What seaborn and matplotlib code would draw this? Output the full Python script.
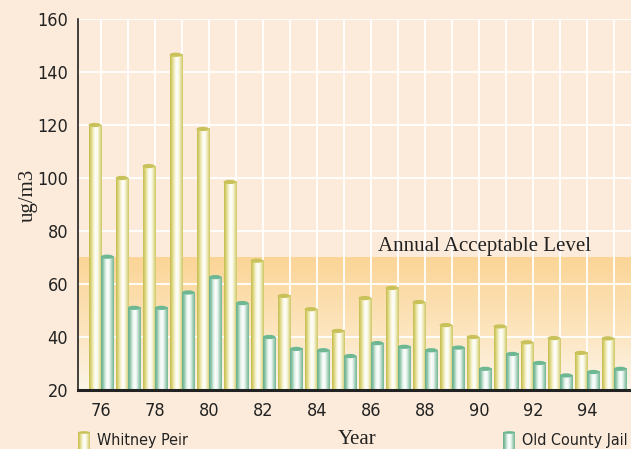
import matplotlib
matplotlib.use("Agg")
import matplotlib.pyplot as plt
import numpy as np
import pandas as pd
import seaborn as sns
from matplotlib import font_manager
from matplotlib.colors import LinearSegmentedColormap, to_hex
from matplotlib.patches import Ellipse

# values (ug/m3)
years = [str(y) for y in range(76, 96)]
whitney_peir = [120, 100, 104.5, 146.5, 118.5, 98.5, 68.8, 55.5, 50.5, 42.3,
                54.7, 58.5, 53.2, 44.5, 40, 44, 38, 39.6, 34, 39.5]
old_county_jail = [70.3, 51, 51, 56.8, 62.6, 52.8, 40, 35.5, 35, 32.8,
                   37.7, 36.3, 35, 36, 28, 33.6, 30.2, 25.5, 26.8, 28]
series_names = ["Whitney Peir", "Old County Jail"]
acceptable_level = 70
acceptable_label = "Annual Acceptable Level"
y_ticks = [20, 40, 60, 80, 100, 120, 140, 160]

BG = "#fcebda"
dark = {"Whitney Peir": "#c9c25a", "Old County Jail": "#6db892"}
shades = {
    "Whitney Peir": ["#c4bc4e", "#dcd67e", "#f3f0c4", "#ffffff", "#fbfae9", "#e6e2a6", "#cfc866"],
    "Old County Jail": ["#66ae8a", "#8ec5a9", "#d9eee3", "#ffffff", "#eaf5ef", "#a8d2bc", "#74b795"],
}
cmaps = {k: LinearSegmentedColormap.from_list(k, v) for k, v in shades.items()}

df = pd.DataFrame({
    "year": years * 2,
    "value": whitney_peir + old_county_jail,
    "series": [series_names[0]] * len(years) + [series_names[1]] * len(years),
})

sns.set_style("white", {"axes.facecolor": BG, "figure.facecolor": BG})

# narrow sans for ticks/legend, serif for titles
names = {f.name for f in font_manager.fontManager.ttflist}
if "Liberation Sans Narrow" in names:
    narrow = font_manager.FontProperties(family="Liberation Sans Narrow", size=14)
    legend_fp = font_manager.FontProperties(family="Liberation Sans Narrow", size=13)
else:
    narrow = font_manager.FontProperties(family="DejaVu Sans", stretch="condensed", size=13)
    legend_fp = font_manager.FontProperties(family="DejaVu Sans", stretch="condensed", size=11.5)
serif = font_manager.FontProperties(family="Liberation Serif", size=15)

fig = plt.figure(figsize=(6.31, 4.49), dpi=100)
ax = fig.add_axes([78 / 631, 59 / 449, 1 - 78 / 631, 371 / 449])

sns.barplot(data=df, x="year", y="value", hue="series", hue_order=series_names,
            palette=dark, width=0.92, gap=0, saturation=1, legend=False, ax=ax)

xlim = (-0.85, 19.63)
ylim = (20, 160)

# acceptable band: gradient from the level down to the axis floor
band = np.linspace(0, 1, 128).reshape(-1, 1)
band_cmap = LinearSegmentedColormap.from_list("band", ["#fdf5e9", "#fce3ba", "#fbd597"])
ax.imshow(band, cmap=band_cmap, extent=[xlim[0], xlim[1], ylim[0], acceptable_level],
          origin="lower", aspect="auto", zorder=0.2, interpolation="bilinear")

# turn flat bars into cylinders
grad = np.linspace(0, 1, 64).reshape(1, -1)
color_to_series = {to_hex(v): k for k, v in dark.items()}
for p in ax.patches:
    s = color_to_series.get(to_hex(p.get_facecolor()))
    if s is None:
        continue
    x0, w, top = p.get_x(), p.get_width(), p.get_height()
    p.set_alpha(0)
    ax.imshow(grad, cmap=cmaps[s], extent=[x0, x0 + w, ylim[0], top],
              aspect="auto", zorder=2, interpolation="bilinear")
    ax.add_patch(Ellipse((x0 + w / 2, top), w, 1.6, facecolor=dark[s],
                         edgecolor="none", zorder=3))

ax.set_xlim(*xlim)
ax.set_ylim(*ylim)

ax.set_xticks(range(len(years)))
ax.set_xticklabels([y if i % 2 == 0 else "" for i, y in enumerate(years)])
ax.set_yticks(y_ticks)
ax.set_yticklabels([str(t) for t in y_ticks])
for lab in ax.get_xticklabels() + ax.get_yticklabels():
    lab.set_fontproperties(narrow)
    lab.set_color("#222222")
ax.tick_params(axis="both", length=0)
ax.tick_params(axis="x", pad=9)
ax.tick_params(axis="y", pad=7)

ax.set_axisbelow(True)
ax.grid(True, color="white", linewidth=1.3)
for lbl in ["top", "right"]:
    ax.spines[lbl].set_visible(False)
ax.spines["left"].set_color("#222222")
ax.spines["left"].set_linewidth(1.2)
ax.spines["bottom"].set_color("#222222")
ax.spines["bottom"].set_linewidth(2.2)
ax.set_xlabel("")
ax.set_ylabel("")

ax.text(14.2, acceptable_level + 0.6, acceptable_label, ha="center", va="bottom",
        fontproperties=serif, color="#222222", zorder=4)

fig.text(28 / 631, 1 - 195 / 449, "ug/m3", rotation=90, ha="center", va="center",
         fontproperties=serif, color="#222222")
fig.text(357 / 631, 1 - 440 / 449, "Year", ha="center", va="center",
         fontproperties=serif, color="#222222")


def legend_icon(left_px, s):
    iax = fig.add_axes([left_px / 631, 0, 12 / 631, 18 / 449])
    iax.imshow(grad, cmap=cmaps[s], extent=[0, 1, 0, 10], aspect="auto",
               interpolation="bilinear")
    iax.add_patch(Ellipse((0.5, 10), 1, 1.6, facecolor=dark[s], edgecolor="none"))
    iax.set_xlim(0, 1)
    iax.set_ylim(0, 10.9)
    iax.axis("off")


legend_icon(78, series_names[0])
fig.text(97 / 631, 1 - 440 / 449, series_names[0], ha="left", va="center",
         fontproperties=legend_fp, color="#222222")

# right legend entry: keep it inside the figure edge
t2 = fig.text(628 / 631, 1 - 440 / 449, series_names[1], ha="right", va="center",
              fontproperties=legend_fp, color="#222222")
renderer = fig.canvas.get_renderer()
left_px = t2.get_window_extent(renderer).x0
legend_icon(left_px - 19, series_names[1])

fig.savefig("out.png", dpi=100, facecolor=BG)
